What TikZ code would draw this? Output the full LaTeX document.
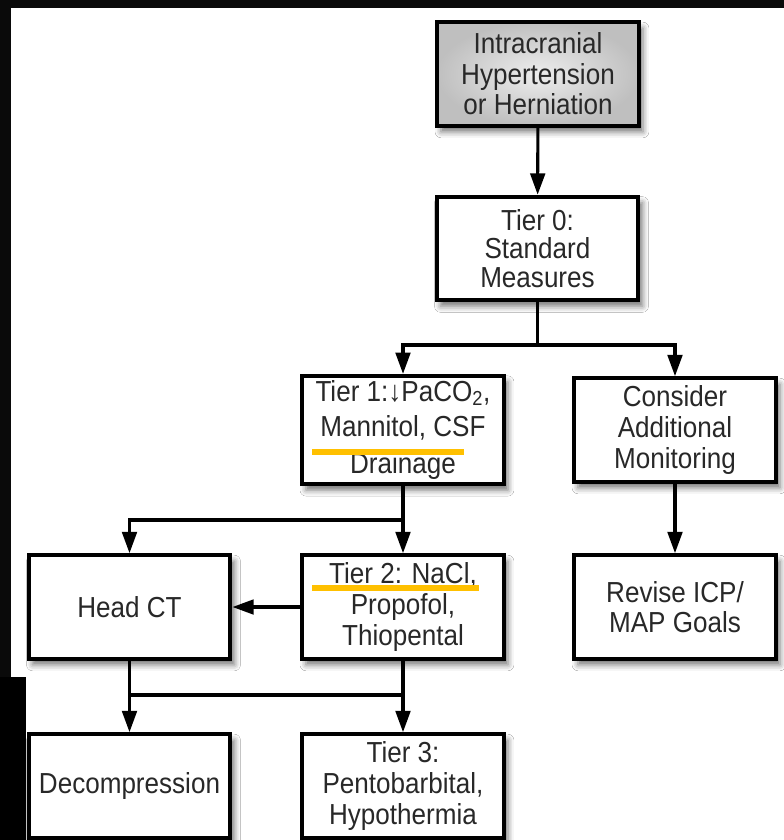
\documentclass[tikz,border=0pt]{standalone}
\usepackage{fontspec}
\setmainfont{Liberation Sans}[FakeStretch=0.90]
\usetikzlibrary{arrows.meta,shadows.blur}
\definecolor{hilite}{RGB}{255,192,0}
\definecolor{ink}{RGB}{40,40,40}
\begin{document}
\begin{tikzpicture}[x=0.75bp,y=-0.75bp,
  box/.style={draw=black,line width=3pt,fill=white,
    minimum width=152pt,minimum height=78pt,align=center,
    text=ink,font=\fontsize{21.8pt}{23pt}\selectfont,
    blur shadow={shadow xshift=3pt,shadow yshift=-4.5pt,
      shadow blur radius=4.5pt,shadow opacity=55}},
  startbox/.style={box,inner color=black!7,outer color=black!25},
  tightbox/.style={box,font=\fontsize{21.8pt}{21.5pt}\selectfont},
  widebox/.style={box,font=\fontsize{21.8pt}{24pt}\selectfont},
  link/.style={line width=2.3pt},
  arr/.style={link,-{Triangle[length=16pt,width=11pt]}},
  mark line/.style={line width=5pt,hilite}]
\useasboundingbox (0,0) rectangle (784,840);
\fill[white] (0,0) rectangle (784,840);

% dark frame along the top and left edges
\fill[black!96] (0,0) rectangle (784,8);
\fill[black!96] (0,0) rectangle (11,677);
\fill[black] (0,677) rectangle (26,840);

% boxes
\node[startbox] (top) at (538,74) {Intracranial\\Hypertension\\or Herniation};
\node[tightbox] (t0) at (537.5,248.5) {Tier 0:\\Standard\\Measures};
\node[widebox] (t1) at (403,430) {Tier 1:↓PaCO\textsubscript{2},\\[2.5pt]Mannitol, CSF\\[4pt]Drainage};
\node[box] (cons) at (675,430) {Consider\\Additional\\Monitoring};
\node[box] (ct) at (129.5,607) {Head CT};
\node[box] (t2) at (403,607) {Tier 2: NaCl,\\Propofol,\\Thiopental};
\node[box] (rev) at (675,607) {Revise ICP/\\MAP Goals};
\node[box] (dec) at (129.5,786) {Decompression};
\node[box] (t3) at (403,786) {Tier 3:\\Pentobarbital,\\Hypothermia};

% junction points of the branching connectors
\coordinate (j0) at (537.5,345);
\coordinate (j1) at (403,520);
\coordinate (j2) at (129.5,695);
\coordinate (j3) at (403,695);

% connectors
\draw[arr] (top) -- (t0);
\draw[link] (t0) -- (j0);
\draw[arr] (j0) -| (t1);
\draw[arr] (j0) -| (cons);
\draw[arr] (t1) -- (t2);
\draw[arr] (j1) -| (ct);
\draw[arr] (t2) -- (ct);
\draw[arr] (cons) -- (rev);
\draw[arr] (ct) -- (dec);
\draw[arr] (t2) -- (t3);
\draw[link] (j2) -- (j3);

% highlight strokes under two text lines
\draw[mark line] (312,452) -- (464,452);
\draw[mark line] (312,588) -- (479,588);
\end{tikzpicture}
\end{document}
